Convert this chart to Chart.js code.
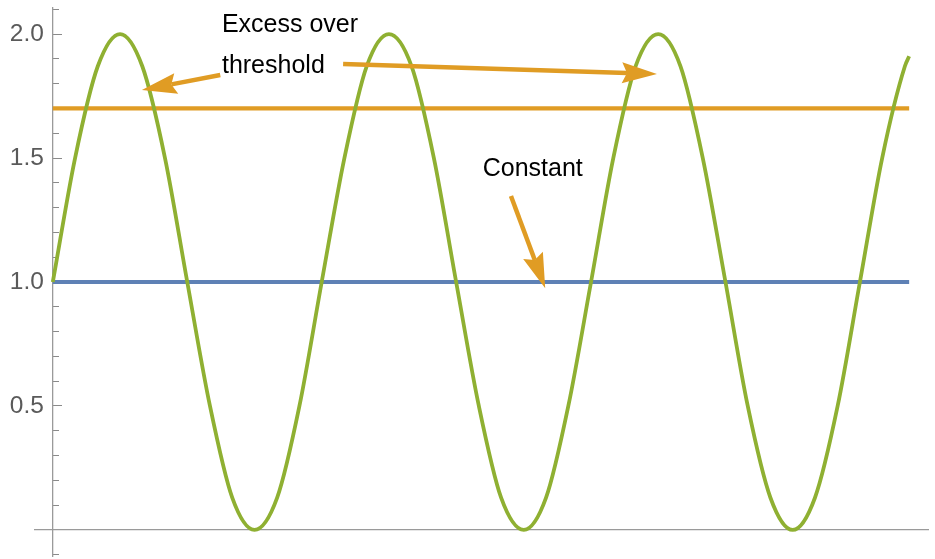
<!DOCTYPE html>
<html lang="en">
<head>
    <meta charset="UTF-8">
    <title>Excess over threshold</title>
    <script src="https://cdn.jsdelivr.net/npm/chart.js"></script>
    <style>
        body { margin: 0; background: #fff; }
        #wrap { width: 935px; height: 559px; }
    </style>
</head>
<body>
<div id="wrap">
    <canvas id="plot" width="935" height="559"></canvas>
</div>
<script>
    // wave samples
    const waveX = [0.00, 0.52, 1.05, 1.57, 2.09, 2.62, 3.14, 3.67, 4.19, 4.71,
        5.24, 5.76, 6.28, 6.81, 7.33, 7.85, 8.38, 8.90, 9.42, 9.95,
        10.47, 11.00, 11.52, 12.04, 12.57, 13.09, 13.61, 14.14, 14.66, 15.18,
        15.71, 16.23, 16.76, 17.28, 17.80, 18.33, 18.85, 19.37, 19.90, 20.00];
    const waveY = [1.00, 1.50, 1.87, 2.00, 1.87, 1.50, 1.00, 0.50, 0.13, 0.00,
        0.13, 0.50, 1.00, 1.50, 1.87, 2.00, 1.87, 1.50, 1.00, 0.50,
        0.13, 0.00, 0.13, 0.50, 1.00, 1.50, 1.87, 2.00, 1.87, 1.50,
        1.00, 0.50, 0.13, 0.00, 0.13, 0.50, 1.00, 1.50, 1.87, 1.91];

    const lineX = [0, 20];
    const constantY = [1.0, 1.0];
    const thresholdY = [1.7, 1.7];

    const majorTicks = [0, 0.5, 1.0, 1.5, 2.0];
    const minorTicks = [-0.1, 0, 0.1, 0.2, 0.3, 0.4, 0.5, 0.6, 0.7, 0.8, 0.9, 1.0,
        1.1, 1.2, 1.3, 1.4, 1.5, 1.6, 1.7, 1.8, 1.9, 2.0, 2.1];
    const labelTicks = [0.5, 1.0, 1.5, 2.0];

    // annotations, in data coordinates
    const labelTexts = ['Excess over', 'threshold', 'Constant'];
    const labelX = [3.95, 3.95, 10.04];
    const labelY = [2.009, 1.844, 1.427];
    const arrowFromX = [3.91, 6.78, 10.70];
    const arrowFromY = [1.835, 1.879, 1.347];
    const arrowToX = [2.08, 14.11, 11.50];
    const arrowToY = [1.774, 1.839, 0.975];

    const BLUE = '#5E81B5', ORANGE = '#E09C24', GREEN = '#8FB032';
    const AXIS = '#9a9a9a';
    const Y_MIN = -0.105, Y_MAX = 2.105;

    function pts(xs, ys) {
        return xs.map((v, i) => ({x: v, y: ys[i]}));
    }

    // keep the axes from pushing the plot area in
    function noPad(s) {
        s.paddingTop = 0;
        s.paddingBottom = 0;
        s.paddingLeft = 0;
        s.paddingRight = 0;
    }

    const annotations = {
        id: 'annotations',
        afterDatasetsDraw(chart) {
            const ctx = chart.ctx;
            const sx = chart.scales.x, sy = chart.scales.y;
            ctx.save();
            ctx.fillStyle = ORANGE;
            ctx.strokeStyle = ORANGE;
            ctx.lineWidth = 4.5;
            for (let i = 0; i < arrowFromX.length; i++) {
                const x0 = sx.getPixelForValue(arrowFromX[i]);
                const y0 = sy.getPixelForValue(arrowFromY[i]);
                const x1 = sx.getPixelForValue(arrowToX[i]);
                const y1 = sy.getPixelForValue(arrowToY[i]);
                const len = Math.hypot(x1 - x0, y1 - y0);
                const ux = (x1 - x0) / len, uy = (y1 - y0) / len;
                const px = -uy, py = ux;
                const headLen = 35, halfW = 10.5, notch = 30;
                ctx.beginPath();
                ctx.moveTo(x0, y0);
                ctx.lineTo(x1 - ux * notch, y1 - uy * notch);
                ctx.stroke();
                ctx.beginPath();
                ctx.moveTo(x1, y1);
                ctx.lineTo(x1 - ux * headLen + px * halfW, y1 - uy * headLen + py * halfW);
                ctx.lineTo(x1 - ux * notch, y1 - uy * notch);
                ctx.lineTo(x1 - ux * headLen - px * halfW, y1 - uy * headLen - py * halfW);
                ctx.closePath();
                ctx.fill();
            }
            ctx.fillStyle = '#000';
            ctx.font = '25px "Liberation Sans", Arial, sans-serif';
            ctx.textAlign = 'left';
            ctx.textBaseline = 'alphabetic';
            labelTexts.forEach((t, i) => {
                ctx.fillText(t, sx.getPixelForValue(labelX[i]), sy.getPixelForValue(labelY[i]));
            });
            ctx.restore();
        }
    };

    Chart.defaults.font.family = '"Liberation Sans", Arial, sans-serif';

    new Chart(document.getElementById('plot').getContext('2d'), {
        type: 'line',
        data: {
            datasets: [
                {
                    label: '1 + sin x',
                    data: pts(waveX, waveY),
                    borderColor: GREEN,
                    borderWidth: 3.8,
                    pointRadius: 0,
                    cubicInterpolationMode: 'monotone',
                    fill: false
                },
                {
                    label: 'threshold',
                    data: pts(lineX, thresholdY),
                    borderColor: ORANGE,
                    borderWidth: 4.2,
                    pointRadius: 0,
                    fill: false
                },
                {
                    label: 'constant',
                    data: pts(lineX, constantY),
                    borderColor: BLUE,
                    borderWidth: 4,
                    pointRadius: 0,
                    fill: false
                }
            ]
        },
        options: {
            responsive: false,
            animation: false,
            layout: {padding: {left: 35, right: 7, top: 8, bottom: 3}},
            plugins: {legend: {display: false}, tooltip: {enabled: false}},
            scales: {
                x: {
                    type: 'linear',
                    min: -0.416,
                    max: 20.44,
                    position: {y: 0},
                    afterFit: noPad,
                    grid: {display: true, drawOnChartArea: false, drawTicks: false},
                    border: {display: true, color: AXIS, width: 1.2},
                    ticks: {display: false}
                },
                y: {
                    type: 'linear',
                    min: Y_MIN,
                    max: Y_MAX,
                    position: {x: 0},
                    afterBuildTicks: s => { s.ticks = majorTicks.map(v => ({value: v})); },
                    afterFit: noPad,
                    grid: {drawOnChartArea: false, drawTicks: true, tickLength: -10, tickColor: '#8a8a8a', tickWidth: 1},
                    border: {display: true, color: AXIS, width: 1.3},
                    ticks: {display: false}
                },
                yMinor: {
                    type: 'linear',
                    axis: 'y',
                    min: Y_MIN,
                    max: Y_MAX,
                    position: {x: 0},
                    afterBuildTicks: s => { s.ticks = minorTicks.map(v => ({value: v})); },
                    afterFit: noPad,
                    grid: {drawOnChartArea: false, drawTicks: true, tickLength: -6, tickColor: '#8a8a8a', tickWidth: 1},
                    border: {display: false},
                    ticks: {display: false}
                },
                yLabels: {
                    type: 'linear',
                    axis: 'y',
                    min: Y_MIN,
                    max: Y_MAX,
                    position: {x: -0.21},
                    afterBuildTicks: s => { s.ticks = labelTicks.map(v => ({value: v})); },
                    afterFit: noPad,
                    grid: {display: false, drawTicks: false},
                    border: {display: false},
                    ticks: {
                        padding: 0,
                        color: '#5a5a5a',
                        font: {size: 24.5},
                        callback: v => v.toFixed(1)
                    }
                }
            }
        },
        plugins: [annotations]
    });
</script>
</body>
</html>
